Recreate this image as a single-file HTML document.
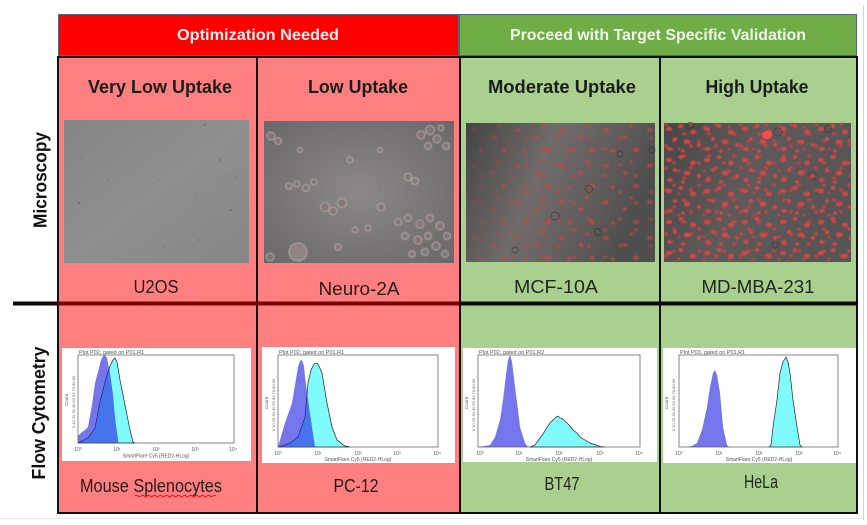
<!DOCTYPE html>
<html><head><meta charset="utf-8">
<style>
html,body{margin:0;padding:0;background:#fff;width:867px;height:525px;overflow:hidden}
svg{display:block}
text{font-family:"Liberation Sans",Arial,sans-serif}
</style></head><body>
<svg width="867" height="525" viewBox="0 0 867 525" xmlns="http://www.w3.org/2000/svg">
<defs>
  <filter id="blur1" x="-5%" y="-5%" width="110%" height="110%"><feGaussianBlur stdDeviation="0.7"/></filter>
  <filter id="blur2" x="-5%" y="-5%" width="110%" height="110%"><feGaussianBlur stdDeviation="0.5"/></filter>
  <linearGradient id="g1" x1="0" y1="0" x2="1" y2="1">
    <stop offset="0" stop-color="#858585"/><stop offset="0.5" stop-color="#8f8f8f"/><stop offset="1" stop-color="#868686"/>
  </linearGradient>
  <radialGradient id="g2" cx="0.5" cy="0.5" r="0.75">
    <stop offset="0" stop-color="#8a8888"/><stop offset="1" stop-color="#676565"/>
  </radialGradient>
  <linearGradient id="g3" x1="0" y1="0" x2="1" y2="0.3">
    <stop offset="0" stop-color="#444"/><stop offset="0.45" stop-color="#716b6b"/><stop offset="0.75" stop-color="#625d5d"/><stop offset="1" stop-color="#4e4e4e"/>
  </linearGradient>
  <linearGradient id="g4" x1="0" y1="0" x2="1" y2="0.3">
    <stop offset="0" stop-color="#474747"/><stop offset="0.5" stop-color="#5e5a5a"/><stop offset="1" stop-color="#555"/>
  </linearGradient>
  <linearGradient id="m3g" x1="0" y1="0" x2="1" y2="0">
    <stop offset="0" stop-color="#fff" stop-opacity="0.25"/><stop offset="0.45" stop-color="#fff" stop-opacity="1"/><stop offset="1" stop-color="#fff" stop-opacity="0.85"/>
  </linearGradient>
  <mask id="m3"><rect x="466" y="123" width="189" height="139" fill="url(#m3g)"/></mask>
  <pattern id="sp4a" width="38" height="31" patternUnits="userSpaceOnUse" x="664" y="123">
    <g fill="#ee4242">
      <ellipse cx="5" cy="6" rx="3.2" ry="2.2"/>
      <ellipse cx="17" cy="3" rx="2.5" ry="2"/>
      <ellipse cx="29" cy="9" rx="3" ry="2.4"/>
      <ellipse cx="11" cy="16" rx="2.2" ry="2"/>
      <ellipse cx="23" cy="19" rx="3.4" ry="2.5"/>
      <ellipse cx="35" cy="22" rx="2" ry="2"/>
      <ellipse cx="6" cy="26" rx="3" ry="2"/>
      <ellipse cx="19" cy="28" rx="2" ry="1.6"/>
    </g>
  </pattern>
  <pattern id="sp4b" width="25" height="22" patternUnits="userSpaceOnUse" x="670" y="130">
    <g fill="#e83c3c">
      <ellipse cx="4" cy="11" rx="2" ry="1.6"/>
      <ellipse cx="14" cy="4" rx="2.4" ry="1.8"/>
      <ellipse cx="21" cy="16" rx="2" ry="2"/>
      <ellipse cx="9" cy="19" rx="1.6" ry="1.4"/>
    </g>
  </pattern>
  <pattern id="sp3" width="44" height="36" patternUnits="userSpaceOnUse" x="466" y="123">
    <g fill="#cc4646">
      <ellipse cx="8" cy="7" rx="3" ry="2"/>
      <ellipse cx="27" cy="14" rx="2.5" ry="2"/>
      <ellipse cx="38" cy="27" rx="3" ry="2.2"/>
      <ellipse cx="15" cy="28" rx="2.2" ry="1.8"/>
      <ellipse cx="33" cy="3" rx="2" ry="1.5"/>
    </g>
  </pattern>
  <pattern id="sp3b" width="31" height="27" patternUnits="userSpaceOnUse" x="475" y="131">
    <g fill="#c44444">
      <ellipse cx="6" cy="18" rx="2.4" ry="1.8"/>
      <ellipse cx="21" cy="7" rx="2" ry="1.6"/>
    </g>
  </pattern>
</defs>

<!-- outer faint frame -->
<line x1="863.5" y1="5" x2="863.5" y2="520" stroke="#d4d4d4" stroke-width="1"/>
<line x1="0" y1="518.5" x2="863" y2="518.5" stroke="#e6e6e6" stroke-width="1"/>

<!-- headers -->
<rect x="58.5" y="14.5" width="400" height="41" fill="#fe0000" stroke="#55657d" stroke-width="1"/>
<rect x="459.5" y="14.5" width="397" height="41" fill="#6fad46" stroke="#55657d" stroke-width="1"/>
<text x="258" y="40" font-size="16" font-weight="bold" fill="#ffeeee" text-anchor="middle" textLength="162" lengthAdjust="spacingAndGlyphs">Optimization Needed</text>
<text x="658" y="40" font-size="16" font-weight="bold" fill="#f0f8ea" text-anchor="middle" textLength="296" lengthAdjust="spacingAndGlyphs">Proceed with Target Specific Validation</text>

<!-- cells -->
<rect x="58" y="57" width="402" height="456" fill="#fd7f7f"/>
<rect x="460" y="57" width="397" height="456" fill="#a9d08f"/>

<!-- microscopy images -->
<rect x="64" y="120" width="185" height="143" fill="url(#g1)"/>
<g fill="#5a5a5a" opacity="0.55">
  <circle cx="82" cy="158" r="0.9"/><circle cx="144" cy="152" r="0.8"/><circle cx="205" cy="125" r="1"/>
  <circle cx="220" cy="160" r="1"/><circle cx="236" cy="178" r="0.9"/><circle cx="195" cy="194" r="0.8"/>
  <circle cx="231" cy="210" r="1"/><circle cx="79" cy="203" r="1.1"/><circle cx="164" cy="246" r="0.9"/>
  <circle cx="199" cy="240" r="0.9"/><circle cx="128" cy="222" r="0.7"/><circle cx="108" cy="180" r="0.7"/>
</g>
<g stroke="#777" stroke-width="0.6" fill="none" opacity="0.5">
  <path d="M205 168 L228 160"/><path d="M215 180 L240 172"/><path d="M150 185 L162 178"/><path d="M95 230 L110 222"/>
</g>

<rect x="264" y="121" width="190" height="142" fill="url(#g2)"/>
<g fill="#857779" stroke="#b8aeae" stroke-width="1" filter="url(#blur2)" opacity="0.9">
  <circle cx="271" cy="136" r="4"/><circle cx="278" cy="141" r="3.5"/>
  <circle cx="421" cy="135" r="4"/><circle cx="430" cy="130" r="4.5"/><circle cx="437" cy="139" r="4"/><circle cx="446" cy="146" r="3.5"/><circle cx="428" cy="146" r="3.5"/><circle cx="441" cy="128" r="3"/>
  <circle cx="325" cy="207" r="4.5"/><circle cx="333" cy="211" r="4"/><circle cx="342" cy="203" r="4.5"/>
  <circle cx="381" cy="207" r="3.8"/>
  <circle cx="408" cy="177" r="3.8"/><circle cx="415" cy="181" r="3.5"/>
  <circle cx="289" cy="186" r="3.2"/><circle cx="297" cy="184" r="3"/><circle cx="306" cy="188" r="3.5"/><circle cx="314" cy="182" r="3"/>
  <circle cx="398" cy="222" r="3.5"/><circle cx="408" cy="218" r="3.5"/><circle cx="420" cy="224" r="4"/><circle cx="430" cy="218" r="3.5"/><circle cx="440" cy="226" r="4"/><circle cx="447" cy="236" r="3.5"/>
  <circle cx="405" cy="236" r="3.5"/><circle cx="418" cy="240" r="4"/><circle cx="428" cy="236" r="3.5"/><circle cx="436" cy="246" r="4"/><circle cx="425" cy="252" r="3.5"/><circle cx="445" cy="254" r="3.5"/><circle cx="412" cy="254" r="3.2"/>
  <circle cx="298" cy="252" r="9" fill="#948686"/><circle cx="270" cy="257" r="4"/>
  <circle cx="338" cy="247" r="3.2"/><circle cx="368" cy="228" r="3"/>
  <circle cx="350" cy="160" r="3"/><circle cx="380" cy="150" r="2.5"/><circle cx="300" cy="150" r="2.5"/><circle cx="355" cy="230" r="2.8"/>
</g>

<rect x="466" y="123" width="189" height="139" fill="url(#g3)"/>
<g mask="url(#m3)" filter="url(#blur1)">
  <rect x="466" y="123" width="189" height="139" fill="url(#sp3)" opacity="0.8"/>
  <rect x="466" y="123" width="189" height="139" fill="url(#sp3b)" opacity="0.7"/>
</g>
<g fill="none" stroke="#2e2e2e" stroke-width="0.9" opacity="0.6">
  <circle cx="589" cy="189" r="3.5"/><circle cx="620" cy="154" r="3"/><circle cx="555" cy="216" r="4"/><circle cx="598" cy="232" r="3.5"/><circle cx="652" cy="150" r="3"/><circle cx="515" cy="250" r="3"/>
</g>

<rect x="664" y="123" width="187" height="139" fill="url(#g4)"/>
<g filter="url(#blur2)">
  <rect x="664" y="123" width="187" height="139" fill="url(#sp4a)" opacity="0.85"/>
  <rect x="664" y="123" width="187" height="139" fill="url(#sp4b)" opacity="0.7"/>
</g>
<g fill="none" stroke="#333" stroke-width="0.9" opacity="0.6">
  <circle cx="690" cy="126" r="3.5"/><circle cx="778" cy="132" r="4"/><circle cx="828" cy="129" r="3.5"/><circle cx="812" cy="176" r="4"/><circle cx="775" cy="245" r="3"/>
</g>
<ellipse cx="767" cy="135" rx="5" ry="4" fill="#ff4a4a"/>

<!-- flow plot 1 -->
<rect x="62" y="348" width="189" height="113" fill="#fff"/>
<path d="M78,443 L82,441 L88,438 L95,428 L100,402 L105,382 L110,366 L113,360 L115,358 L117,362 L120,380 L125,405 L130,430 L133,442 L135,443 Z" fill="#80fcff" stroke="#222" stroke-width="0.7"/>
<path d="M78,443 L78,436 L82,432 L85,430 L88,427 L92,405 L95,383 L98,372 L101,360 L103,356 L105,355 L107,358 L110,373 L113,395 L115,417 L117,433 L118.5,443 Z" fill="#2020e0" opacity="0.62"/>
<rect x="78" y="355" width="156" height="88" fill="none" stroke="#555" stroke-width="0.7"/>
<text x="79" y="354" font-size="5.5" fill="#555">Plot P02, gated on P01.R1</text>
<g font-size="5" fill="#555" text-anchor="middle">
  <text x="78" y="451">10⁰</text><text x="117" y="451">10¹</text><text x="156" y="451">10²</text><text x="195" y="451">10³</text><text x="233" y="451">10⁴</text>
  <text x="156" y="457.5">SmartFlare Cy5 (RED2-HLog)</text>
</g>
<text transform="translate(68,400) rotate(-90)" font-size="4.5" fill="#555" text-anchor="middle">Count</text>
<text transform="translate(75,402) rotate(-90)" font-size="4" fill="#666" text-anchor="middle">0 10 20 30 40 50 60 70 80 90</text>

<!-- flow plot 2 -->
<rect x="262" y="347" width="193" height="116" fill="#fff"/>
<path d="M278,447 L285,445 L290,443 L298,437 L305,417 L308,383 L311,370 L314,364 L317,363 L319,366 L322,373 L327,403 L332,427 L337,440 L345,446 L350,447 Z" fill="#80fcff" stroke="#222" stroke-width="0.7"/>
<path d="M278,447 L280,440 L285,423 L292,403 L295,385 L298,367 L300,361 L302,360 L304,366 L305,377 L308,400 L312,427 L315,447 Z" fill="#2020e0" opacity="0.62"/>
<rect x="278" y="355" width="160" height="92" fill="none" stroke="#555" stroke-width="0.7"/>
<text x="279" y="354" font-size="5.5" fill="#555">Plot P02, gated on P01.R1</text>
<g font-size="5" fill="#555" text-anchor="middle">
  <text x="278" y="455">10⁰</text><text x="318" y="455">10¹</text><text x="358" y="455">10²</text><text x="397" y="455">10³</text><text x="437" y="455">10⁴</text>
  <text x="358" y="461">SmartFlare Cy5 (RED2-HLog)</text>
</g>
<text transform="translate(268,403) rotate(-90)" font-size="4.5" fill="#555" text-anchor="middle">Count</text>
<text transform="translate(275,405) rotate(-90)" font-size="4" fill="#666" text-anchor="middle">0 10 20 30 40 50 60 70 80 90</text>

<!-- flow plot 3 -->
<rect x="463" y="348" width="194" height="114" fill="#fff"/>
<path d="M530,447 L535,445 L540,438 L543,434 L546,429 L550,423 L553,420 L556,417 L558,416 L560,418 L563,419 L567,423 L570,426 L573,430 L577,433 L580,437 L585,440 L590,443 L600,446.5 L605,447 Z" fill="#80fcff" stroke="#222" stroke-width="0.7"/>
<path d="M478,447 L485,446 L490,445 L495,437 L500,420 L503,400 L506,375 L508,360 L510,355 L512,362 L515,387 L518,410 L520,427 L525,443 L528,447 Z" fill="#2020e0" opacity="0.62"/>
<rect x="478" y="355" width="162" height="92" fill="none" stroke="#555" stroke-width="0.7"/>
<text x="479" y="354" font-size="5.5" fill="#555">Plot P02, gated on P01.R2</text>
<g font-size="5" fill="#555" text-anchor="middle">
  <text x="480" y="455">10⁰</text><text x="519" y="455">10¹</text><text x="559" y="455">10²</text><text x="600" y="455">10³</text><text x="639" y="455">10⁴</text>
  <text x="559" y="461">SmartFlare Cy5 (RED2-HLog)</text>
</g>
<text transform="translate(468,403) rotate(-90)" font-size="4.5" fill="#555" text-anchor="middle">Count</text>
<text transform="translate(475,405) rotate(-90)" font-size="4" fill="#666" text-anchor="middle">0 10 20 30 40 50 60 70 80 90</text>

<!-- flow plot 4 -->
<rect x="663" y="348" width="193" height="115" fill="#fff"/>
<path d="M769,447 L771,445 L773,427 L777,400 L780,373 L783,362 L786,357 L788,362 L790,373 L793,400 L797,427 L800,445 L802,447 Z" fill="#80fcff" stroke="#222" stroke-width="0.7"/>
<path d="M686,447 L692,446 L697,443 L702,430 L707,407 L710,387 L713,373 L715,370 L717,375 L720,393 L723,427 L727,445 L729,447 Z" fill="#2020e0" opacity="0.62"/>
<rect x="679" y="355" width="159" height="92" fill="none" stroke="#555" stroke-width="0.7"/>
<text x="680" y="354" font-size="5.5" fill="#555">Plot P03, gated on P01.R1</text>
<g font-size="5" fill="#555" text-anchor="middle">
  <text x="679" y="455">10⁰</text><text x="719" y="455">10¹</text><text x="759" y="455">10²</text><text x="799" y="455">10³</text><text x="837" y="455">10⁴</text>
  <text x="759" y="461">SmartFlare Cy5 (RED2-HLog)</text>
</g>
<text transform="translate(668,403) rotate(-90)" font-size="4.5" fill="#555" text-anchor="middle">Count</text>
<text transform="translate(675,405) rotate(-90)" font-size="4" fill="#666" text-anchor="middle">0 10 20 30 40 50 60 70 80 90</text>

<!-- borders -->
<g stroke="#111" stroke-width="2">
  <line x1="58" y1="56" x2="58" y2="514"/>
  <line x1="257" y1="57" x2="257" y2="513"/>
  <line x1="460" y1="57" x2="460" y2="513"/>
  <line x1="660" y1="57" x2="660" y2="513"/>
  <line x1="857" y1="56" x2="857" y2="514"/>
  <line x1="57" y1="57" x2="858" y2="57"/>
  <line x1="57" y1="513" x2="858" y2="513"/>
</g>
<line x1="13" y1="303.5" x2="58" y2="303.5" stroke="#0a0a0a" stroke-width="4"/>
<line x1="58" y1="303.5" x2="459" y2="303.5" stroke="#7a0000" stroke-width="4"/>
<line x1="459" y1="303.5" x2="858" y2="303.5" stroke="#0a0a0a" stroke-width="4"/>

<!-- headings -->
<g font-size="18" font-weight="bold" fill="#1c1c1c" text-anchor="middle">
  <text x="160" y="93" textLength="144" lengthAdjust="spacingAndGlyphs">Very Low Uptake</text>
  <text x="358" y="93" textLength="100" lengthAdjust="spacingAndGlyphs">Low Uptake</text>
  <text x="562" y="93" textLength="148" lengthAdjust="spacingAndGlyphs">Moderate Uptake</text>
  <text x="757" y="93" textLength="103" lengthAdjust="spacingAndGlyphs">High Uptake</text>
</g>

<!-- labels -->
<g font-size="18" fill="#2a1a1a" text-anchor="middle">
  <text x="156" y="293" textLength="45" lengthAdjust="spacingAndGlyphs">U2OS</text>
  <text x="359" y="295" textLength="81" lengthAdjust="spacingAndGlyphs">Neuro-2A</text>
  <text x="151" y="492" textLength="142" lengthAdjust="spacingAndGlyphs">Mouse Splenocytes</text>
  <text x="356" y="492" textLength="45" lengthAdjust="spacingAndGlyphs">PC-12</text>
</g>
<g font-size="18" fill="#1e261e" text-anchor="middle">
  <text x="556" y="293" textLength="84" lengthAdjust="spacingAndGlyphs">MCF-10A</text>
  <text x="758" y="293" textLength="113" lengthAdjust="spacingAndGlyphs">MD-MBA-231</text>
  <text x="562" y="490" textLength="35" lengthAdjust="spacingAndGlyphs">BT47</text>
  <text x="761" y="488" textLength="34" lengthAdjust="spacingAndGlyphs">HeLa</text>
</g>
<path d="M135,496 q1.5,-1.5 3,0 t3,0 t3,0 t3,0 t3,0 t3,0 t3,0 t3,0 t3,0 t3,0 t3,0 t3,0 t3,0 t3,0 t3,0 t3,0 t3,0 t3,0 t3,0 t3,0 t3,0 t3,0 t3,0 t3,0 t3,0 t3,0 t3,0" fill="none" stroke="#e01010" stroke-width="0.9"/>

<!-- row labels -->
<g font-size="18" font-weight="bold" fill="#111" text-anchor="middle">
  <text transform="translate(46.5,180) rotate(-90)" textLength="96" lengthAdjust="spacingAndGlyphs">Microscopy</text>
  <text transform="translate(45,413) rotate(-90)" textLength="133" lengthAdjust="spacingAndGlyphs">Flow Cytometry</text>
</g>
</svg>
</body></html>
